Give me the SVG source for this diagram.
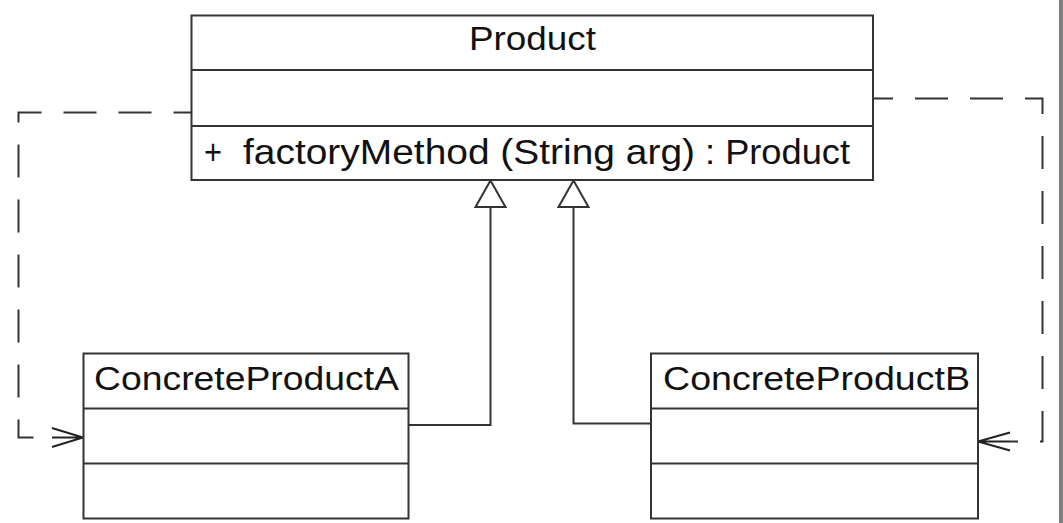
<svg xmlns="http://www.w3.org/2000/svg" width="1063" height="523" viewBox="0 0 1063 523">
  <style>
    .box { fill: #ffffff; stroke: #333333; stroke-width: 2; }
    .div { stroke: #333333; stroke-width: 2; }
    .lbl { font-family: "Liberation Sans", Arial, sans-serif; fill: #111111; }
    .gen { fill: none; stroke: #333333; stroke-width: 2; }
    .dep { fill: none; stroke: #333333; stroke-width: 2; stroke-dasharray: 33 22; }
    .head { fill: none; stroke: #222222; stroke-width: 2; }
    .tri { fill: #ffffff; stroke: #333333; stroke-width: 2; }
  </style>
  <rect x="0" y="0" width="1063" height="523" fill="#ffffff"/>
  <rect x="1059" y="0" width="4" height="523" fill="#808080"/>

  <g id="connectors">
    <path class="gen" d="M408.5,425 H490.5 V207"/>
    <polygon class="tri" points="490.5,180.5 475.5,207 505.5,207"/>
    <path class="gen" d="M651,423.5 H573.5 V207"/>
    <polygon class="tri" points="573.5,180.5 558.5,207 588.5,207"/>
    <path class="dep" stroke-dashoffset="15" d="M191.5,112.5 H18.5 V437.5 H52"/>
    <path class="head" d="M52,437.5 H83 M52,428 L83,437.5 L52,447"/>
    <path class="dep" stroke-dashoffset="13" d="M873,98.5 H1042.5 V441.5 H1010"/>
    <path class="head" d="M1010,441.5 H978 M1010,432.5 L978,441.5 L1010,450.5"/>
  </g>

  <g id="Product">
    <rect class="box" x="191.5" y="15.5" width="681.5" height="164.5"/>
    <line class="div" x1="191.5" y1="70" x2="873" y2="70"/>
    <line class="div" x1="191.5" y1="126" x2="873" y2="126"/>
    <text class="lbl" x="469" y="50" font-size="33" textLength="127" lengthAdjust="spacingAndGlyphs">Product</text>
    <text class="lbl" y="163.5" font-size="35">
      <tspan x="204" textLength="18" lengthAdjust="spacingAndGlyphs">+</tspan>
      <tspan x="243" textLength="452" lengthAdjust="spacingAndGlyphs">factoryMethod (String arg)</tspan>
      <tspan x="705" textLength="145" lengthAdjust="spacingAndGlyphs">: Product</tspan>
    </text>
  </g>

  <g id="ConcreteProductA">
    <rect class="box" x="83.5" y="353.5" width="325" height="165"/>
    <line class="div" x1="83.5" y1="408.5" x2="408.5" y2="408.5"/>
    <line class="div" x1="83.5" y1="463.5" x2="408.5" y2="463.5"/>
    <text class="lbl" x="94" y="390" font-size="34" textLength="305" lengthAdjust="spacingAndGlyphs">ConcreteProductA</text>
  </g>

  <g id="ConcreteProductB">
    <rect class="box" x="651" y="353.5" width="327" height="165"/>
    <line class="div" x1="651" y1="408.5" x2="978" y2="408.5"/>
    <line class="div" x1="651" y1="463.5" x2="978" y2="463.5"/>
    <text class="lbl" x="663" y="390" font-size="34" textLength="307" lengthAdjust="spacingAndGlyphs">ConcreteProductB</text>
  </g>
</svg>
